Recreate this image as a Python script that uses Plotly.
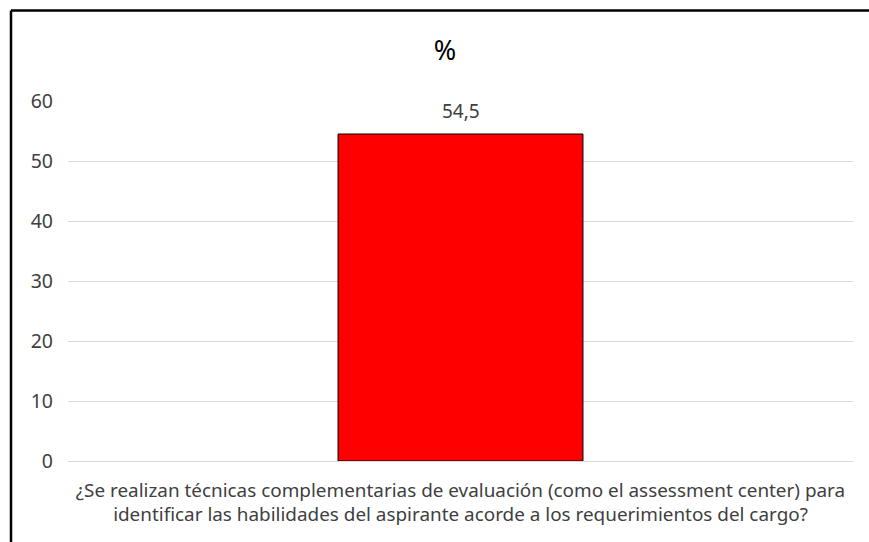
import plotly.graph_objects as go

categories = ["¿Se realizan técnicas complementarias de evaluación (como el assessment center) para<br>identificar las habilidades del aspirante acorde a los requerimientos del cargo?"]
values = [54.5]
y_ticks = [0, 10, 20, 30, 40, 50, 60]

W, H = 869, 542
L, R, T, B = 68, 16, 101, 81
pw, ph = W - L - R, H - T - B

fig = go.Figure(go.Bar(
    x=categories, y=values,
    marker=dict(color="#FF0000", line=dict(color="#000000", width=1)),
    cliponaxis=False,
))

for c, v in zip(categories, values):
    fig.add_annotation(x=c, y=v, text=f"{v}".replace(".", ","), showarrow=False,
                       yanchor="middle", yshift=23,
                       font=dict(size=19, color="#404040", family="Noto Sans"))

fig.update_layout(
    width=W, height=H,
    margin=dict(l=L, r=R, t=T, b=B),
    paper_bgcolor="white", plot_bgcolor="white",
    separators=",.",
    bargap=0.688,
    showlegend=False,
    title=dict(text="%", x=(445 - L) / pw, xref="paper", xanchor="center",
               y=1 - 51 / H, yanchor="middle",
               font=dict(size=27, color="#000000", family="Noto Sans")),
    font=dict(family="Noto Sans", color="#404040"),
    yaxis=dict(range=[0, 60], tickvals=y_ticks, showgrid=True, gridcolor="#D9D9D9",
               gridwidth=1, zeroline=False, showline=False,
               tickfont=dict(size=19.5, color="#404040"), ticklabelstandoff=14),
    xaxis=dict(showline=True, linecolor="#D9D9D9", linewidth=1,
               tickfont=dict(size=18.9, color="#404040"), ticklabelstandoff=12),
)

# outer frame lines (top and left)
fig.add_shape(type="line", xref="paper", yref="paper",
              x0=(11 - L) / pw, x1=(W + 5 - L) / pw,
              y0=1 + (T - 10.5) / ph, y1=1 + (T - 10.5) / ph,
              line=dict(color="#000000", width=2.5))
fig.add_shape(type="line", xref="paper", yref="paper",
              x0=(11 - L) / pw, x1=(11 - L) / pw,
              y0=1 + (T - 10.5) / ph, y1=-(B + 5) / ph,
              line=dict(color="#000000", width=2.5))

fig.write_html("out.html", config={"displayModeBar": False},
               post_script="document.body.style.margin='0';")
